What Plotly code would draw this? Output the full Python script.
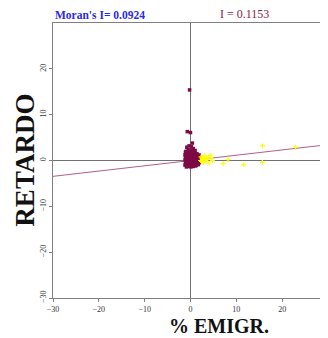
import plotly.graph_objects as go

# maroon (significant / main) points
maroon_x = [-0.2, -0.7, 0.0, 0.4, -0.8, -0.3, 0.6, 0.2, 1.0, -1.0, -0.5, 0.3,
            -1.1, -0.6, -0.1, 0.4, 0.9, 1.4, 1.9,
            -1.2, -0.7, -0.2, 0.3, 0.8, 1.3, 1.8, 2.1,
            -1.1, -0.6, -0.1, 0.4, 0.9, 1.4, 1.9,
            -1.2, -0.7, -0.2, 0.3, 0.8, 1.3, 1.8, 2.0,
            -1.1, -0.6, -0.1, 0.4, 0.9, 1.4, 1.9,
            -1.2, -0.7, -0.2, 0.3, 0.8, 1.3, 1.7,
            -0.9, -0.4, 0.1, 0.6, 1.1]
maroon_y = [15.4, 6.3, 6.1, 3.8, 2.9, 3.2, 2.6, 3.0, 2.2, 2.0, 2.4, 2.3,
            1.8, 1.9, 1.7, 1.8, 1.6, 1.5, 1.2,
            1.2, 1.3, 1.2, 1.1, 1.2, 1.0, 0.9, 0.6,
            0.6, 0.7, 0.6, 0.5, 0.7, 0.5, 0.4,
            0.1, 0.0, 0.1, 0.0, 0.1, -0.1, 0.0, -0.2,
            -0.5, -0.4, -0.5, -0.4, -0.5, -0.6, -0.5,
            -1.0, -0.9, -1.0, -1.1, -0.9, -1.0, -0.9,
            -1.4, -1.3, -1.4, -1.3, -1.2]

# yellow points
yellow_x = [15.7, 22.9, 15.7, 11.6, 7.1, 8.2, 4.3, 4.8, 4.0, 2.9,
            2.3, 2.6, 3.1, 3.5, 2.4, 2.8, 3.3, 3.8, 2.5, 3.0, 4.5, 2.2]
yellow_y = [3.2, 2.9, -0.4, -0.9, -0.7, 0.2, 1.1, 0.0, -0.6, 0.4,
            0.8, 0.2, 0.9, 0.3, -0.2, -0.4, -0.1, 0.5, 0.5, 1.0, 0.6, 0.0]

slope = 0.1153
line_x = [-30, 30]

x_ticks = [-30, -20, -10, 0, 10, 20, 30]
y_ticks = [-30, -20, -10, 0, 10, 20]

fig = go.Figure()
fig.add_trace(go.Scatter(x=line_x, y=[slope * v for v in line_x], mode="lines",
                         line=dict(color="#b06088", width=1), hoverinfo="skip"))
fig.add_trace(go.Scatter(x=maroon_x, y=maroon_y, mode="markers",
                         marker=dict(symbol="square", size=3.5, color="#7d0a45",
                                     line=dict(width=0))))
fig.add_trace(go.Scatter(x=yellow_x, y=yellow_y, mode="markers",
                         marker=dict(symbol="cross-thin", size=3.5,
                                     line=dict(width=1.2, color="#ffff00"),
                                     color="#ffff00")))

axis_common = dict(showgrid=False, zeroline=True, zerolinecolor="#707070",
                   zerolinewidth=1, showline=True, linecolor="#808080",
                   linewidth=1, ticks="outside", ticklen=3, tickcolor="#808080",
                   automargin=False,
                   tickfont=dict(family="Liberation Serif", size=8, color="#333333"))

fig.update_layout(
    width=320, height=330,
    margin=dict(l=45, r=0, t=15, b=40, autoexpand=False),
    paper_bgcolor="white", plot_bgcolor="white",
    showlegend=False,
    xaxis=dict(range=[-30, 30], tickvals=x_ticks, mirror=True, **axis_common),
    yaxis=dict(range=[-30, 30], tickvals=y_ticks, tickangle=-90, **axis_common),
    annotations=[
        dict(text="<b>Moran's I= 0.0924</b>", xref="paper", yref="paper",
             x=0, y=1, xanchor="left", yanchor="bottom", yshift=0, showarrow=False,
             font=dict(family="Liberation Serif", size=11.5, color="#2a2ae6")),
        dict(text="I = 0.1153", xref="paper", yref="paper",
             x=0.6, y=1, xanchor="left", yanchor="bottom", yshift=0, showarrow=False,
             font=dict(family="Liberation Serif", size=12, color="#8b1a4a")),
        dict(text="<b>RETARDO</b>", xref="paper", yref="paper",
             x=-0.105, y=0.5, xanchor="center", yanchor="middle",
             textangle=-90, showarrow=False,
             font=dict(family="Liberation Serif", size=27, color="#111111")),
        dict(text="<b>% EMIGR.</b>", xref="paper", yref="paper",
             x=0.604, y=0, xanchor="center", yanchor="top", yshift=-15,
             showarrow=False,
             font=dict(family="Liberation Serif", size=20, color="#111111")),
    ],
)

fig.write_html("out.html")
